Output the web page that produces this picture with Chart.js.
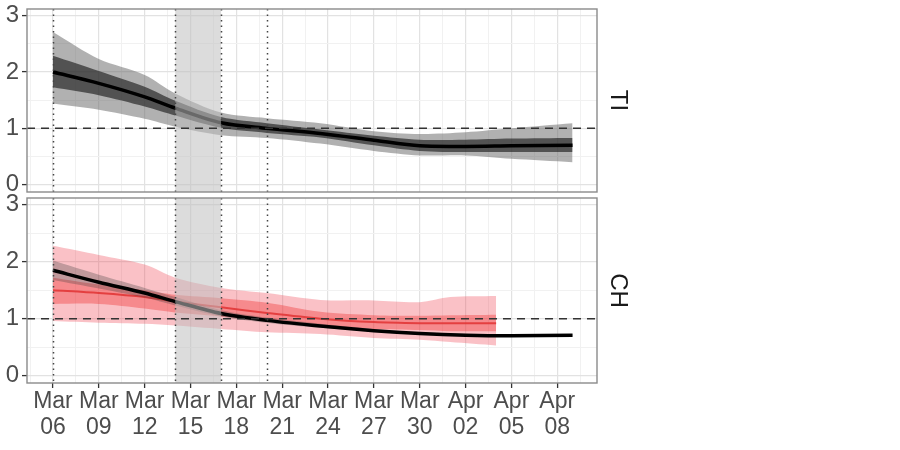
<!DOCTYPE html>
<html><head><meta charset="utf-8">
<script src="https://cdn.jsdelivr.net/npm/chart.js@4/dist/chart.umd.min.js"></script>
<style>
html,body{margin:0;padding:0;background:#fff;}
#wrap{position:relative;width:900px;height:450px;overflow:hidden;}
canvas{position:absolute;left:0;}
</style>
</head><body>
<div id="wrap">
<canvas id="ti" width="900" height="200" style="top:0px"></canvas>
<canvas id="ch" width="900" height="260" style="top:190px"></canvas>
</div>
<script>
// ---- data (x = days since Mar 06) ----
const xTickDays   = [0, 3, 6, 9, 12, 15, 18, 21, 24, 27, 30, 33];
const xTickLabels = [['Mar','06'],['Mar','09'],['Mar','12'],['Mar','15'],['Mar','18'],['Mar','21'],
                     ['Mar','24'],['Mar','27'],['Mar','30'],['Apr','02'],['Apr','05'],['Apr','08']];
const xMinorDays  = [-1.5, 1.5, 4.5, 7.5, 10.5, 13.5, 16.5, 19.5, 22.5, 25.5, 28.5, 31.5, 34.5];
const yMajor = [0, 1, 2, 3];
const yMinor = [0.5, 1.5, 2.5];
const panelLabels = ['TI', 'CH'];

const shadeDays  = [8, 11];          // grey shaded window
const markerDays = [0, 8, 11, 14];   // dotted vertical lines
const refLevel   = 1;                // dashed horizontal line

const dayIdx    = [0, 3, 6, 8, 11, 14, 17.5, 21, 24, 27, 30, 34];
// TI panel
const tiMedian  = [2.00, 1.80, 1.56, 1.36, 1.10, 1.00, 0.91, 0.79, 0.69, 0.68, 0.69, 0.70];
const tiInnerLo = [1.73, 1.59, 1.39, 1.23, 1.01, 0.92, 0.84, 0.70, 0.60, 0.58, 0.58, 0.58];
const tiInnerHi = [2.29, 2.02, 1.74, 1.49, 1.20, 1.09, 0.98, 0.87, 0.80, 0.80, 0.82, 0.83];
const tiOuterLo = [1.44, 1.33, 1.17, 1.03, 0.88, 0.83, 0.73, 0.60, 0.52, 0.52, 0.46, 0.40];
const tiOuterHi = [2.71, 2.23, 1.95, 1.62, 1.28, 1.18, 1.09, 0.95, 0.90, 0.93, 1.00, 1.09];
// CH panel, black series
const chBlack   = [1.85, 1.64, 1.45, 1.30, 1.09, 0.97, 0.87, 0.79, 0.74, 0.71, 0.70, 0.71];
const chGreyLo  = [1.68, 1.53, 1.37, 1.23, 1.04, 0.93, 0.84, 0.77, 0.72, 0.69, 0.68, 0.69];
const chGreyHi  = [2.02, 1.77, 1.54, 1.38, 1.15, 1.02, 0.91, 0.82, 0.76, 0.73, 0.72, 0.73];
// CH panel, red series
const chRedDays    = [0, 3, 6, 8, 11, 14, 17.5, 21, 24, 26, 29];
const chRedMedian  = [1.50, 1.45, 1.38, 1.30, 1.20, 1.10, 1.00, 0.94, 0.92, 0.92, 0.92];
const chRedInnerLo = [1.26, 1.26, 1.18, 1.11, 1.04, 0.96, 0.87, 0.82, 0.80, 0.78, 0.78];
const chRedInnerHi = [1.72, 1.60, 1.50, 1.42, 1.36, 1.28, 1.12, 1.06, 1.05, 1.06, 1.07];
const chPinkLo     = [0.96, 0.93, 0.91, 0.88, 0.82, 0.76, 0.73, 0.66, 0.63, 0.59, 0.53];
const chPinkHi     = [2.28, 2.12, 1.95, 1.72, 1.54, 1.45, 1.33, 1.32, 1.29, 1.38, 1.40];

// ---- styling ----
const FONT = "'Liberation Sans', Arial, Helvetica, sans-serif";
const MAJOR_GRID = '#e2e2e2', MINOR_GRID = '#f1f1f1';
const TENSION = 0.3;

function pts(xs, ys) { return xs.map((x, i) => ({ x: x, y: ys[i] })); }
function band(xs, hi, lo, color, order) {
  return [
    { data: pts(xs, hi), fill: '+1', backgroundColor: color, borderWidth: 0, pointRadius: 0,
      tension: TENSION, order: order },
    { data: pts(xs, lo), fill: false, borderWidth: 0, pointRadius: 0,
      tension: TENSION, order: order - 0.5 }
  ];
}
function line(xs, ys, color, width, order) {
  return { data: pts(xs, ys), fill: false, borderColor: color, borderWidth: width, pointRadius: 0,
           tension: TENSION, borderCapStyle: 'butt', order: order };
}

const decor = {
  id: 'decor',
  afterDatasetsDraw(chart, args, opts) {
    const { ctx, chartArea: a, scales: { x, y } } = chart;
    ctx.save();
    // shaded window
    const s0 = x.getPixelForValue(shadeDays[0]), s1 = x.getPixelForValue(shadeDays[1]);
    ctx.fillStyle = 'rgba(192,192,192,0.55)';
    ctx.fillRect(s0, a.top, s1 - s0, a.bottom - a.top);
    // dashed reference line
    ctx.strokeStyle = '#333';
    ctx.lineWidth = 1.5;
    ctx.setLineDash([8, 6]);
    const yr = y.getPixelForValue(refLevel);
    ctx.beginPath(); ctx.moveTo(a.left, yr); ctx.lineTo(a.right, yr); ctx.stroke();
    // dotted verticals
    ctx.strokeStyle = '#444';
    ctx.lineWidth = 1.5;
    ctx.setLineDash([1.5, 4]);
    markerDays.forEach(d => {
      const xp = Math.round(x.getPixelForValue(d)) + 0.5;
      ctx.beginPath(); ctx.moveTo(xp, a.top); ctx.lineTo(xp, a.bottom); ctx.stroke();
    });
    // panel border
    ctx.setLineDash([]);
    ctx.strokeStyle = '#8a8a8a';
    ctx.lineWidth = 1.4;
    ctx.strokeRect(a.left, a.top, a.right - a.left, a.bottom - a.top);
    // strip label (rotated)
    ctx.fillStyle = '#1a1a1a';
    ctx.font = '24px ' + FONT;
    ctx.translate(a.right + 21, (a.top + a.bottom) / 2);
    ctx.rotate(Math.PI / 2);
    ctx.textAlign = 'center';
    ctx.textBaseline = 'middle';
    ctx.fillText(opts.label, 0, 0);
    ctx.restore();
  }
};

function scales(showX) {
  const xTicks = xTickDays.concat(xMinorDays).sort((p, q) => p - q);
  const yTicks = yMajor.concat(yMinor).sort((p, q) => p - q);
  const isMajorX = v => xTickDays.indexOf(v) >= 0;
  const isMajorY = v => yMajor.indexOf(v) >= 0;
  return {
    x: {
      type: 'linear', min: -1.7, max: 35.6,
      afterBuildTicks: s => { s.ticks = xTicks.map(v => ({ value: v })); },
      afterFit: s => { s.height = showX ? 67 : 0; s.paddingLeft = 0; s.paddingRight = 0; },
      ticks: {
        display: showX, autoSkip: false, maxRotation: 0, minRotation: 0, padding: 0,
        color: '#4d4d4d', font: { family: FONT, size: 23, lineHeight: 1.15 },
        callback: v => { const i = xTickDays.indexOf(v); return i >= 0 ? xTickLabels[i] : ''; }
      },
      grid: {
        drawTicks: showX, tickLength: 5, tickWidth: 1.3,
        color: c => (c.tick && isMajorX(c.tick.value)) ? MAJOR_GRID : MINOR_GRID,
        lineWidth: c => (c.tick && isMajorX(c.tick.value)) ? 1.2 : 1,
        tickColor: c => (c.tick && isMajorX(c.tick.value)) ? '#333' : 'rgba(0,0,0,0)'
      },
      border: { display: false }
    },
    y: {
      type: 'linear', min: -0.13, max: 3.12,
      afterBuildTicks: s => { s.ticks = yTicks.map(v => ({ value: v })); },
      afterFit: s => { s.width = 27; s.paddingTop = 0; s.paddingBottom = 0; },
      ticks: {
        autoSkip: false, padding: 3, color: '#4d4d4d', font: { family: FONT, size: 24 },
        callback: v => isMajorY(v) ? String(v) : ''
      },
      grid: {
        drawTicks: true, tickLength: 5, tickWidth: 1.3,
        color: c => (c.tick && isMajorY(c.tick.value)) ? MAJOR_GRID : MINOR_GRID,
        lineWidth: c => (c.tick && isMajorY(c.tick.value)) ? 1.2 : 1,
        tickColor: c => (c.tick && isMajorY(c.tick.value)) ? '#333' : 'rgba(0,0,0,0)'
      },
      border: { display: false }
    }
  };
}

function commonOpts(showX, label, padding) {
  return {
    responsive: false, animation: false, devicePixelRatio: 1,
    layout: { padding: padding },
    plugins: { legend: { display: false }, tooltip: { enabled: false }, decor: { label: label } },
    scales: scales(showX)
  };
}

// ---- TI panel ----
const tiSets = [].concat(
  band(dayIdx, tiOuterHi, tiOuterLo, 'rgba(100,100,100,0.5)', 20),
  band(dayIdx, tiInnerHi, tiInnerLo, 'rgba(25,25,25,0.62)', 18),
  [line(dayIdx, tiMedian, '#000', 3.5, 1)]
);
new Chart(document.getElementById('ti'), {
  type: 'line', data: { datasets: tiSets },
  options: commonOpts(false, panelLabels[0], { top: 9, bottom: 8, left: 0, right: 303 }),
  plugins: [decor]
});

// ---- CH panel ----
const chSets = [].concat(
  band(chRedDays, chPinkHi, chPinkLo, 'rgba(240,50,65,0.3)', 20),
  band(chRedDays, chRedInnerHi, chRedInnerLo, 'rgba(240,55,55,0.4)', 18),
  [line(chRedDays, chRedMedian, 'rgba(225,50,50,0.85)', 2, 16)],
  band(dayIdx, chGreyHi, chGreyLo, 'rgba(60,60,60,0.3)', 14),
  [line(dayIdx, chBlack, '#000', 3.5, 1)]
);
new Chart(document.getElementById('ch'), {
  type: 'line', data: { datasets: chSets },
  options: commonOpts(true, panelLabels[1], { top: 8, bottom: 0, left: 0, right: 303 }),
  plugins: [decor]
});
</script>
</body></html>
